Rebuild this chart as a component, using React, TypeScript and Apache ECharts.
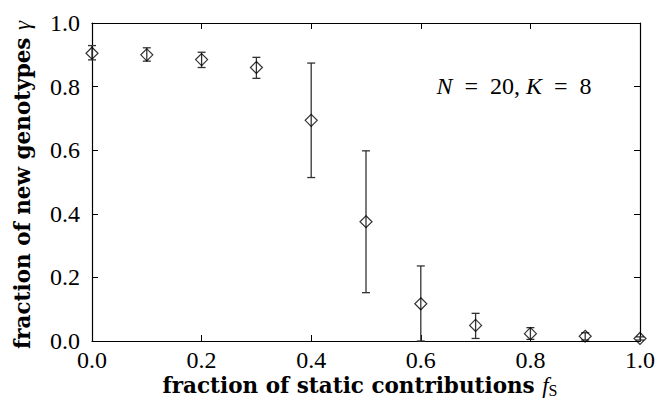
import React, { useEffect, useRef } from "react";
import * as echarts from "echarts";

const fS = [0.0, 0.1, 0.2, 0.3, 0.4, 0.5, 0.6, 0.7, 0.8, 0.9, 1.0];
const gamma = [0.905, 0.9, 0.885, 0.86, 0.694, 0.375, 0.117, 0.049, 0.023, 0.015, 0.008];
const errLow = [0.884, 0.88, 0.86, 0.826, 0.514, 0.152, 0.0, 0.008, 0.005, 0.003, 0.003];
const errHigh = [0.929, 0.922, 0.908, 0.892, 0.874, 0.598, 0.236, 0.087, 0.042, 0.026, 0.013];

const SERIF = "'DejaVu Serif', 'Liberation Serif', serif";
const LSERIF = "'Liberation Serif', 'DejaVu Serif', serif";

export default function App() {
  const ref = useRef<HTMLDivElement>(null);
  useEffect(() => {
    if (!ref.current) return;
    const chart = echarts.init(ref.current, undefined, { renderer: "svg" });
    const axisCommon = {
      type: "value" as const,
      min: 0,
      max: 1,
      interval: 0.2,
      axisLine: { show: true, onZero: false, lineStyle: { color: "#000", width: 1.2 } },
      axisTick: { show: true, inside: true, length: 6, lineStyle: { color: "#000", width: 1 } },
      splitLine: { show: false },
    };
    const labelStyle = {
      fontFamily: LSERIF,
      fontSize: 24,
      color: "#000",
      formatter: (v: number) => v.toFixed(1),
    };
    chart.setOption({
      animation: false,
      grid: { left: 92, right: 17, top: 23, bottom: 66, containLabel: false },
      xAxis: [
        { ...axisCommon, position: "bottom", axisLabel: { ...labelStyle, margin: 7 } },
        { ...axisCommon, position: "top", axisLabel: { show: false } },
      ],
      yAxis: [
        { ...axisCommon, position: "left", axisLabel: { ...labelStyle, margin: 12 } },
        { ...axisCommon, position: "right", axisLabel: { show: false } },
      ],
      series: [
        {
          type: "custom",
          xAxisIndex: 0,
          yAxisIndex: 0,
          clip: false,
          data: fS.map((x, i) => [x, errLow[i], errHigh[i]]),
          renderItem: (params: any, api: any) => {
            const x = api.value(0);
            const lo = api.coord([x, api.value(1)]);
            const hi = api.coord([x, api.value(2)]);
            const w = 4;
            const style = { stroke: "#333", lineWidth: 1.3 };
            return {
              type: "group",
              children: [
                { type: "line", shape: { x1: lo[0], y1: lo[1], x2: hi[0], y2: hi[1] }, style },
                { type: "line", shape: { x1: lo[0] - w, y1: lo[1], x2: lo[0] + w, y2: lo[1] }, style },
                { type: "line", shape: { x1: hi[0] - w, y1: hi[1], x2: hi[0] + w, y2: hi[1] }, style },
              ],
            };
          },
          z: 2,
        },
        {
          type: "scatter",
          xAxisIndex: 0,
          yAxisIndex: 0,
          clip: false,
          symbol: "diamond",
          symbolSize: 12,
          data: fS.map((x, i) => [x, gamma[i]]),
          itemStyle: { color: "rgba(255,255,255,0)", borderColor: "#000", borderWidth: 1.2 },
          z: 3,
        },
      ],
      graphic: [
        {
          type: "text",
          x: 514,
          y: 86,
          style: {
            text: "{i|N}{n|  =  20, }{i|K}{n|  =  8}",
            align: "center",
            verticalAlign: "middle",
            rich: {
              i: { fontFamily: LSERIF, fontSize: 24, fontStyle: "italic", fill: "#000" },
              n: { fontFamily: LSERIF, fontSize: 24, fill: "#000" },
            },
          },
        },
        {
          type: "text",
          x: 360,
          y: 385,
          style: {
            text: "{b|fraction of static contributions }{i|f}{s|S}",
            align: "center",
            verticalAlign: "middle",
            rich: {
              b: { fontFamily: SERIF, fontSize: 21.5, fontWeight: "bold", fill: "#000" },
              i: { fontFamily: LSERIF, fontSize: 23, fontStyle: "italic", fill: "#000" },
              s: { fontFamily: LSERIF, fontSize: 16, fill: "#000", padding: [10, 0, 0, 0] },
            },
          },
        },
        {
          type: "text",
          x: 22,
          y: 185,
          rotation: Math.PI / 2,
          style: {
            text: "{b|fraction of new genotypes }{i|γ}",
            align: "center",
            verticalAlign: "middle",
            rich: {
              b: { fontFamily: SERIF, fontSize: 21.5, fontWeight: "bold", fill: "#000" },
              i: { fontFamily: LSERIF, fontSize: 23, fontStyle: "italic", fill: "#000" },
            },
          },
        },
      ],
    });
    return () => chart.dispose();
  }, []);
  return (
    <div
      ref={ref}
      style={{ position: "fixed", left: 0, top: 0, width: 658, height: 407, background: "#fff" }}
    />
  );
}
